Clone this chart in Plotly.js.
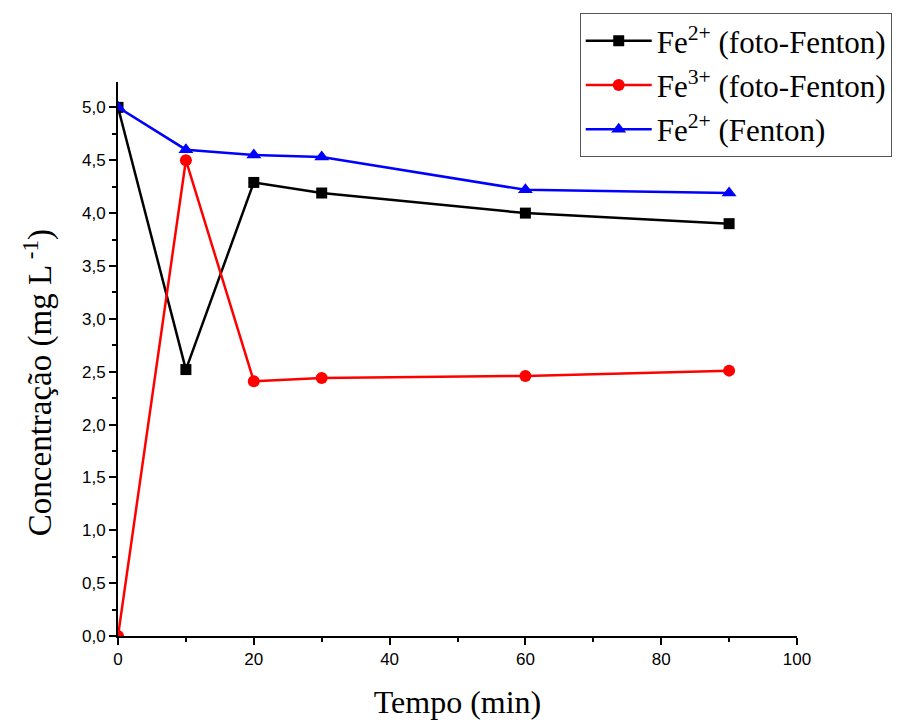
<!DOCTYPE html>
<html>
<head>
<meta charset="utf-8">
<script src="https://cdn.plot.ly/plotly-3.0.1.min.js"></script>
<style>html,body{margin:0;padding:0;background:#fff;}#chart{width:903px;height:722px;}</style>
</head>
<body>
<div id="chart"></div>
<script>
const tempo = [0, 10, 20, 30, 60, 90];
const fe2FotoFenton = [5.0, 2.52, 4.29, 4.19, 4.00, 3.90];
const fe3FotoFenton = [0.0, 4.50, 2.41, 2.44, 2.46, 2.51];
const fe2Fenton = [5.0, 4.60, 4.55, 4.53, 4.22, 4.19];
const seriesNames = [
  '<span style="font-family:Liberation Serif">Fe</span><sup>2+</sup> (foto-Fenton)',
  '<span style="font-family:Liberation Serif">Fe</span><sup>3+</sup> (foto-Fenton)',
  '<span style="font-family:Liberation Serif">Fe</span><sup>2+</sup> (Fenton)'
];
const xTicks = [0, 20, 40, 60, 80, 100];
const yTicks = [0, 0.5, 1, 1.5, 2, 2.5, 3, 3.5, 4, 4.5, 5];
const yTickText = yTicks.map(v => v.toFixed(1).replace('.', ','));
const xTitle = 'Tempo (min)';
const yTitle = 'Concentração (mg L<sup> -1</sup>)';

const serif = 'Liberation Serif, Times New Roman, serif';
const sans = 'Liberation Sans, Arial, sans-serif';

const traces = [
  {x: tempo, y: fe2FotoFenton, name: seriesNames[0], legendgroup: 'a', mode: 'lines+markers',
   line: {color: '#000000', width: 2.5}, marker: {symbol: 'square', size: 11, color: '#000000'}},
  {x: tempo, y: fe3FotoFenton, name: seriesNames[1], legendgroup: 'b', mode: 'lines+markers',
   line: {color: '#ff0000', width: 2.5}, marker: {symbol: 'circle', size: 12, color: '#ff0000'}},
  {x: tempo, y: fe2Fenton, name: seriesNames[2], legendgroup: 'c', mode: 'lines+markers',
   line: {color: '#0000ff', width: 2.5}, marker: {symbol: 'triangle-up', size: 13, color: '#0000ff'}}
];

const layout = {
  width: 903, height: 722,
  font: {family: serif, color: '#000'},
  margin: {l: 118, r: 105, t: 82, b: 86},
  paper_bgcolor: '#ffffff', plot_bgcolor: '#ffffff',
  showlegend: true,
  legend: {
    x: 0.679, y: 1.1245, xanchor: 'left', yanchor: 'top',
    bordercolor: '#555555', borderwidth: 1, bgcolor: '#ffffff',
    font: {family: serif, size: 31, color: '#000'},
    itemwidth: 66, tracegroupgap: 1
  },
  xaxis: {
    range: [0, 100], tickvals: xTicks, ticktext: xTicks.map(String),
    showgrid: false, zeroline: false, showline: true, linecolor: '#000', linewidth: 2,
    ticks: 'outside', ticklen: 7, tickwidth: 2, tickcolor: '#000',
    minor: {dtick: 10, tick0: 0, ticks: 'outside', ticklen: 4, tickwidth: 2, tickcolor: '#000'},
    tickfont: {family: sans, size: 17, color: '#000'},
    title: {text: xTitle, font: {family: serif, size: 32, color: '#000'}, standoff: 22}
  },
  yaxis: {
    range: [0, 5.24], tickvals: yTicks, ticktext: yTickText,
    showgrid: false, zeroline: false, showline: true, linecolor: '#000', linewidth: 2,
    ticks: 'outside', ticklen: 7, tickwidth: 2, tickcolor: '#000',
    minor: {dtick: 0.25, tick0: 0, ticks: 'outside', ticklen: 4, tickwidth: 2, tickcolor: '#000'},
    tickfont: {family: sans, size: 17, color: '#000'}
  },
  annotations: [{
    text: yTitle, textangle: -90, showarrow: false,
    xref: 'paper', yref: 'paper', x: -0.118, y: 0.458, xanchor: 'center', yanchor: 'middle',
    font: {family: serif, size: 33, color: '#000'}
  }]
};

Plotly.newPlot('chart', traces, layout, {displayModeBar: false, staticPlot: true});
</script>
</body>
</html>
